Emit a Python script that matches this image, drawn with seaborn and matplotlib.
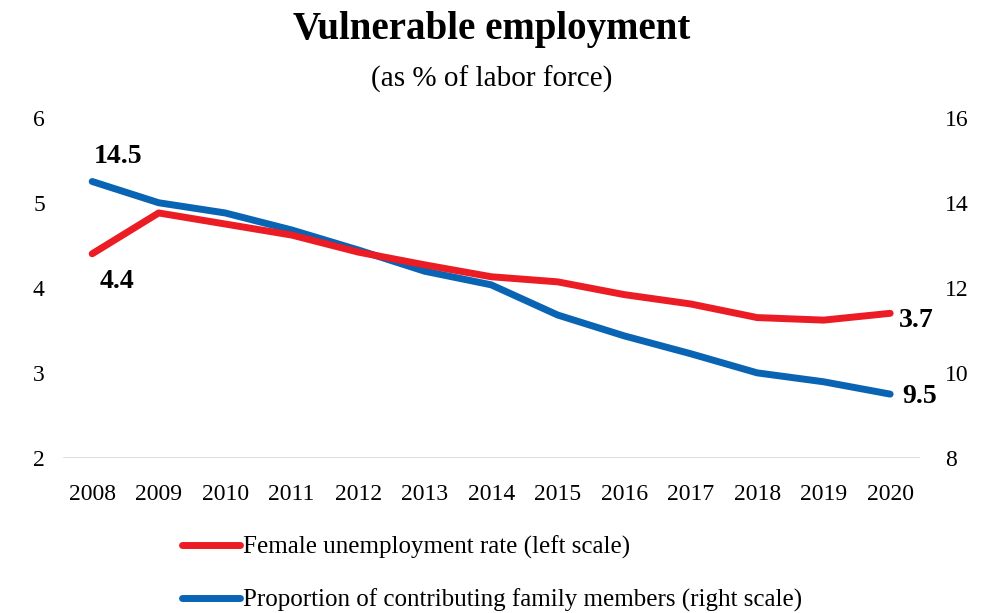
import pandas as pd
import numpy as np
import matplotlib.pyplot as plt
import seaborn as sns
from matplotlib.lines import Line2D

sns.set_theme(style="white")
plt.rcParams['font.family'] = ['Liberation Serif', 'DejaVu Serif']
plt.rcParams['text.color'] = 'black'

# datos
years = ["2008", "2009", "2010", "2011", "2012", "2013", "2014",
         "2015", "2016", "2017", "2018", "2019", "2020"]
female_unemp = [4.4, 4.88, 4.75, 4.62, 4.42, 4.27, 4.13, 4.07, 3.92, 3.81, 3.65, 3.62, 3.7]
family_members = [14.5, 14.0, 13.76, 13.36, 12.89, 12.39, 12.07, 11.36, 10.87, 10.45, 10.0, 9.79, 9.5]

red = "#EC1C24"
blue = "#0A64B4"

df = pd.DataFrame({"year": years, "female": female_unemp, "family": family_members})
df["pos"] = np.arange(len(years))

fig = plt.figure(figsize=(9.83, 6.13), dpi=100)
ax = fig.add_axes([0.064, 0.253, 0.872, 0.555])
ax2 = ax.twinx()

sns.lineplot(data=df, x="pos", y="female", ax=ax, color=red, linewidth=5,
             solid_capstyle="round", solid_joinstyle="round")
sns.lineplot(data=df, x="pos", y="family", ax=ax2, color=blue, linewidth=5,
             solid_capstyle="round", solid_joinstyle="round")
# rojo encima del azul como en el original
ax.set_zorder(ax2.get_zorder() + 1)
ax.patch.set_visible(False)

ax.set_xlim(-0.44, 12.45)
ax.set_ylim(2, 6)
ax2.set_ylim(8, 16)
ax.set_yticks([2, 3, 4, 5, 6])
ax2.set_yticks([8, 10, 12, 14, 16])
ax.set_xticks(df["pos"])
ax.set_xticklabels(years)
ax.set_xlabel("")
ax.set_ylabel("")
ax2.set_ylabel("")

for a in (ax, ax2):
    for s in a.spines.values():
        s.set_visible(False)
    a.tick_params(length=0, labelsize=17, colors="black")
ax.tick_params(axis="y", pad=13)
ax2.tick_params(axis="y", pad=18)
ax.tick_params(axis="x", pad=19)
ax.axhline(2, color="#D9D9D9", linewidth=2, zorder=0)

# etiquetas de valores
lab = dict(fontsize=20, fontweight="bold", color="black")
ax2.annotate(f"{family_members[0]:.1f}", (0, family_members[0]), xytext=(19, 18),
             textcoords="offset points", ha="center", va="center", **lab)
ax.annotate(f"{female_unemp[0]:.1f}", (0, female_unemp[0]), xytext=(18, -20),
            textcoords="offset points", ha="center", va="center", **lab)
ax.annotate(f"{female_unemp[-1]:.1f}", (12, female_unemp[-1]), xytext=(19, -5),
            textcoords="offset points", ha="center", va="center", **lab)
ax2.annotate(f"{family_members[-1]:.1f}", (12, family_members[-1]), xytext=(21, -2),
             textcoords="offset points", ha="center", va="center", **lab)

fig.text(0.5, 0.952, "Vulnerable employment", ha="center", va="center",
         fontsize=28, fontweight="bold", color="black")
fig.text(0.5, 0.87, "(as % of labor force)", ha="center", va="center",
         fontsize=21, color="black")

handles = [Line2D([0], [0], color=red, linewidth=5, solid_capstyle="round"),
           Line2D([0], [0], color=blue, linewidth=5, solid_capstyle="round")]
leg = fig.legend(handles, ["Female unemployment rate (left scale)",
                           "Proportion of contributing family members (right scale)"],
                 loc="upper left", bbox_to_anchor=(0.175, 0.143), frameon=False,
                 fontsize=18, handlelength=2.3, handletextpad=0.12, labelspacing=1.2,
                 borderaxespad=0)
for t in leg.get_texts():
    t.set_color("black")

fig.savefig("out.png", dpi=100)
